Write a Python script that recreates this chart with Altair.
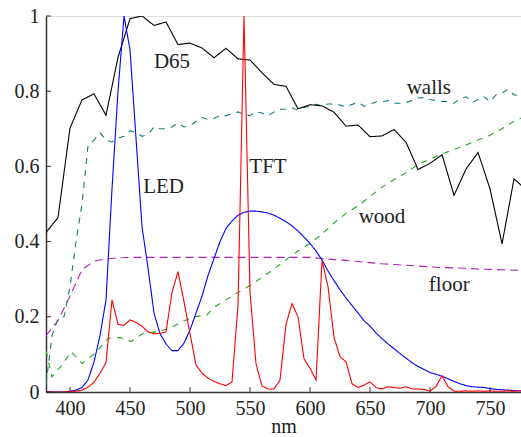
import altair as alt
import pandas as pd

nm10 = list(range(380, 790, 10))
nm5 = list(range(380, 785, 5))

d65 = [0.424, 0.464, 0.702, 0.777, 0.793, 0.736, 0.890, 0.993, 1.0, 0.975,
       0.984, 0.924, 0.928, 0.915, 0.889, 0.914, 0.886, 0.883, 0.849, 0.818,
       0.813, 0.753, 0.764, 0.761, 0.744, 0.707, 0.710, 0.679, 0.681, 0.698,
       0.664, 0.592, 0.608, 0.631, 0.523, 0.593, 0.637, 0.540, 0.394, 0.567,
       0.538]

led = [0, 0, 0, 0, 0.002, 0.005, 0.012, 0.032, 0.08, 0.15,
       0.245, 0.54, 0.80, 1.0, 0.91, 0.675, 0.44, 0.33, 0.21, 0.155,
       0.128, 0.11, 0.11, 0.13, 0.165, 0.21, 0.255, 0.31, 0.355, 0.40,
       0.435, 0.455, 0.47, 0.478, 0.481, 0.481, 0.479, 0.476, 0.47, 0.462,
       0.453, 0.442, 0.428, 0.412, 0.395, 0.375, 0.351, 0.322, 0.296, 0.272,
       0.25, 0.23, 0.21, 0.19, 0.175, 0.157, 0.142, 0.128, 0.115, 0.102,
       0.09, 0.078, 0.068, 0.06, 0.052, 0.047, 0.042, 0.035, 0.028, 0.022,
       0.017, 0.014, 0.013, 0.012, 0.009, 0.007, 0.006, 0.005, 0.004, 0.003,
       0.003]

tft = [0, 0, 0, 0, 0.001, 0.002, 0.005, 0.013, 0.026, 0.05,
       0.078, 0.245, 0.18, 0.177, 0.192, 0.185, 0.175, 0.16, 0.155, 0.156,
       0.16, 0.265, 0.32, 0.24, 0.155, 0.072, 0.05, 0.037, 0.028, 0.022,
       0.017, 0.027, 0.23, 1.0, 0.265, 0.075, 0.016, 0.008, 0.008, 0.032,
       0.18, 0.235, 0.2, 0.088, 0.063, 0.032, 0.35, 0.28, 0.145, 0.094,
       0.08, 0.022, 0.012, 0.018, 0.027, 0.012, 0.008, 0.014, 0.012, 0.01,
       0.014, 0.008, 0.008, 0.007, 0.002, 0.015, 0.043, 0.014, 0.002, 0.002,
       0.003, 0.002, 0.003, 0.002, 0.003, 0.002, 0.002, 0.003, 0.002, 0.004,
       0.005]

walls = [0.02, 0.15, 0.195, 0.20, 0.28, 0.40, 0.50, 0.655, 0.67, 0.69,
         0.67, 0.665, 0.675, 0.68, 0.695, 0.69, 0.68, 0.685, 0.705, 0.70,
         0.70, 0.705, 0.715, 0.705, 0.708, 0.72, 0.73, 0.725, 0.728, 0.735,
         0.735, 0.74, 0.745, 0.738, 0.735, 0.745, 0.742, 0.735, 0.745, 0.752,
         0.752, 0.756, 0.75, 0.757, 0.76, 0.765, 0.762, 0.766, 0.766, 0.763,
         0.758, 0.765, 0.77, 0.76, 0.765, 0.772, 0.772, 0.775, 0.768, 0.768,
         0.77, 0.775, 0.782, 0.783, 0.778, 0.775, 0.773, 0.772, 0.768, 0.78,
         0.785, 0.77, 0.778, 0.785, 0.772, 0.79, 0.795, 0.805, 0.79, 0.79,
         0.79]

floor = [0.15, 0.19, 0.255, 0.325, 0.348, 0.354, 0.357,
         0.358, 0.358, 0.358, 0.358, 0.358, 0.358, 0.358, 0.358,
         0.358, 0.358, 0.358, 0.358, 0.358, 0.358, 0.358, 0.358,
         0.355, 0.352, 0.35, 0.347, 0.344, 0.341, 0.339, 0.337, 0.335,
         0.333, 0.331, 0.33, 0.329, 0.327, 0.326, 0.325, 0.324, 0.324]

wood_nm = [380, 385, 392, 401, 410, 421, 432, 442, 451, 461, 472, 483, 493,
           504, 514, 520, 530, 540, 550, 560, 570, 580, 590, 600, 610, 620,
           630, 640, 650, 660, 670, 680, 690, 700, 710, 720, 730, 740, 750,
           760, 770, 780]
wood = [0.11, 0.04, 0.067, 0.107, 0.076, 0.103, 0.143, 0.145, 0.134, 0.156,
        0.16, 0.169, 0.187, 0.2, 0.205, 0.225, 0.245, 0.265, 0.283, 0.305,
        0.327, 0.352, 0.375, 0.395, 0.42, 0.45, 0.475, 0.495, 0.52, 0.545,
        0.565, 0.583, 0.605, 0.62, 0.633, 0.645, 0.657, 0.67, 0.683, 0.70,
        0.72, 0.735]

label_text = ["D65", "LED", "TFT", "walls", "wood", "floor"]
label_nm = [485, 478, 565, 699, 660, 716]
label_val = [0.878, 0.546, 0.599, 0.808, 0.466, 0.285]

x_ticks = [400, 450, 500, 550, 600, 650, 700, 750]
y_ticks = [0, 0.2, 0.4, 0.6, 0.8, 1]

assert len(d65) == len(nm10) and len(floor) == len(nm10)
assert len(led) == len(nm5) and len(tft) == len(nm5) and len(walls) == len(nm5)
assert len(wood) == len(wood_nm)

series = [
    ("floor", nm10, floor),
    ("wood", wood_nm, wood),
    ("walls", nm5, walls),
    ("D65", nm10, d65),
    ("LED", nm5, led),
    ("TFT", nm5, tft),
]
rows = []
for i, (name, xs, ys) in enumerate(series):
    for x, y in zip(xs, ys):
        rows.append({"series": name, "nm": x, "v": y, "ord": i})
df = pd.DataFrame(rows)

names = ["floor", "wood", "walls", "D65", "LED", "TFT"]
colors = ["#b31fb3", "#22a322", "#167a7a", "#000000", "#0000ff", "#ff0000"]
dashes = [[8, 5], [6, 6], [6, 6], [1, 0], [1, 0], [1, 0]]

FONT = "Liberation Serif, DejaVu Serif, Noto Serif, serif"
xscale = alt.Scale(domain=[380, 775.8], nice=False, zero=False)
yscale = alt.Scale(domain=[0, 1], nice=False)

lines = alt.Chart(df).mark_line(strokeWidth=1.1, clip=True).encode(
    x=alt.X("nm:Q", scale=xscale,
            axis=alt.Axis(values=x_ticks, title="nm", grid=False, ticks=False,
                          labelPadding=6, labelFontSize=20, labelFont=FONT,
                          labelColor="#222222", titleFont=FONT, titleFontSize=20,
                          titleFontWeight="normal", titleColor="#222222",
                          titleY=40, titleBaseline="alphabetic",
                          domainColor="#333333", domainWidth=1.5,
                          labelFlush=False)),
    y=alt.Y("v:Q", scale=yscale,
            axis=alt.Axis(values=y_ticks, title=None, grid=False, ticks=False,
                          labelPadding=7, labelFontSize=20, labelFont=FONT,
                          labelColor="#222222", format=".1~f",
                          domainColor="#333333", domainWidth=1.5,
                          labelFlush=False)),
    color=alt.Color("series:N", scale=alt.Scale(domain=names, range=colors), legend=None),
    strokeDash=alt.StrokeDash("series:N", scale=alt.Scale(domain=names, range=dashes), legend=None),
    detail="series:N",
    order="ord:Q",
)

labels_df = pd.DataFrame({"t": label_text, "nm": label_nm, "v": label_val})
labels = alt.Chart(labels_df).mark_text(font=FONT, fontSize=21, color="#222222",
                                        align="center", baseline="middle").encode(
    x=alt.X("nm:Q", scale=xscale), y=alt.Y("v:Q", scale=yscale), text="t:N")

xt = alt.Chart(pd.DataFrame({"nm": x_ticks})).mark_rule(color="#333333", strokeWidth=1).encode(
    x=alt.X("nm:Q", scale=xscale), y=alt.value(376), y2=alt.value(371))
yt = alt.Chart(pd.DataFrame({"v": y_ticks})).mark_rule(color="#333333", strokeWidth=1).encode(
    y=alt.Y("v:Q", scale=yscale), x=alt.value(0), x2=alt.value(5))

chart = alt.layer(lines, labels, xt, yt).properties(
    width=475, height=376,
    autosize=alt.AutoSizeParams(type="none"),
    padding={"left": 46, "top": 16, "right": 0, "bottom": 45},
).configure_view(stroke=None).configure(background="white", font=FONT)

chart.save("out.html", embed_options={"renderer": "svg", "actions": False})
